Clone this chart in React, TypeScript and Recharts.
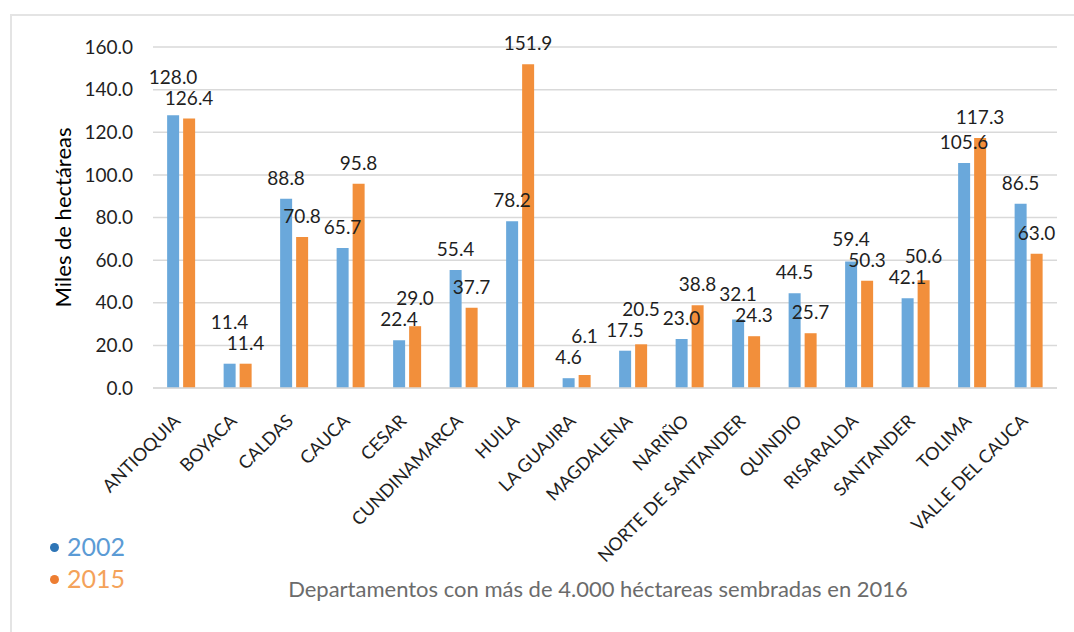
import { BarChart, Bar, XAxis, YAxis, CartesianGrid, LabelList } from 'recharts';

const departamentos = [
    'ANTIOQUIA', 'BOYACA', 'CALDAS', 'CAUCA', 'CESAR', 'CUNDINAMARCA', 'HUILA', 'LA GUAJIRA',
    'MAGDALENA', 'NARIÑO', 'NORTE DE SANTANDER', 'QUINDIO', 'RISARALDA', 'SANTANDER', 'TOLIMA', 'VALLE DEL CAUCA',
];
const valores2002 = [128.0, 11.4, 88.8, 65.7, 22.4, 55.4, 78.2, 4.6, 17.5, 23.0, 32.1, 44.5, 59.4, 42.1, 105.6, 86.5];
const valores2015 = [126.4, 11.4, 70.8, 95.8, 29.0, 37.7, 151.9, 6.1, 20.5, 38.8, 24.3, 25.7, 50.3, 50.6, 117.3, 63.0];
const yTicks = [0, 20, 40, 60, 80, 100, 120, 140, 160];

const FONT = 'Lato, "Open Sans", sans-serif';
const BLUE = '#6aa8db';
const ORANGE = '#f28f3b';
const TEXT = '#1f1f1f';

const data = departamentos.map((name, i) => ({
    name,
    y2002: valores2002[i],
    y2015: valores2015[i],
}));

// rotated category labels, Excel style
const DeptTick = ({ x, y, payload }: any) => (
    <text
        x={x - 10}
        y={y + 16}
        transform={`rotate(-45, ${x - 10}, ${y + 16})`}
        textAnchor="end"
        dominantBaseline="hanging"
        fontFamily={FONT}
        fontSize={18}
        fill={TEXT}
    >
        {payload.value}
    </text>
);

// value label; when both labels of a category would collide, lift the taller bar's one
const makeValueLabel = (isFirst: boolean) => (props: any) => {
    const { x, y, width, height, value, index } = props;
    const other = isFirst ? valores2015[index] : valores2002[index];
    const ppu = value ? height / value : 0;
    const otherTop = y - (other - value) * ppu;
    let bottom = y - 14;
    if (Math.abs(y - otherTop) < 21) {
        const higher = value > other || (value === other && isFirst);
        if (higher) bottom = Math.max(y, otherTop) - 14 - 21;
    }
    return (
        <text x={x + width / 2} y={bottom} textAnchor="middle" fontFamily={FONT} fontSize={19} fill={TEXT}>
            {Number(value).toFixed(1)}
        </text>
    );
};

const Dot = ({ color }: { color: string }) => (
    <span style={{ display: 'inline-block', width: 9, height: 9, borderRadius: '50%', background: color, marginRight: 8, verticalAlign: 'middle', position: 'relative', top: -2 }} />
);

export default function App() {
    return (
        <div style={{ position: 'absolute', left: 0, top: 0, width: 1074, height: 632, background: '#fff', fontFamily: FONT }}>
            {/* light frame of the original chart area */}
            <div style={{ position: 'absolute', left: 10, top: 14, right: 0, bottom: 0, borderTop: '2px solid #e4e4e4', borderLeft: '2px solid #e4e4e4' }} />
            <BarChart
                width={1074}
                height={632}
                data={data}
                margin={{ top: 47, right: 17, left: 53, bottom: 94 }}
                barCategoryGap="25%"
                barGap={4}
                style={{ position: 'absolute', left: 0, top: 0 }}
            >
                <CartesianGrid vertical={false} stroke="#d9d9d9" strokeWidth={1.5} />
                <XAxis
                    dataKey="name"
                    interval={0}
                    height={150}
                    tick={<DeptTick />}
                    tickLine={false}
                    axisLine={{ stroke: '#d9d9d9', strokeWidth: 1.5 }}
                />
                <YAxis
                    domain={[0, 160]}
                    ticks={yTicks}
                    width={100}
                    tickLine={false}
                    axisLine={false}
                    tickSize={10}
                    tickMargin={10}
                    tickFormatter={(v: number) => v.toFixed(1)}
                    tick={{ fontFamily: FONT, fontSize: 19, fill: TEXT }}
                    label={({ viewBox }: any) => {
                        const cy = viewBox.y + viewBox.height / 2;
                        return (
                            <text x={62} y={cy} transform={`rotate(-90, 62, ${cy})`} textAnchor="middle" dominantBaseline="central" fontFamily={FONT} fontSize={22} fill="#000">
                                Miles de hectáreas
                            </text>
                        );
                    }}
                />
                <Bar dataKey="y2002" fill={BLUE} isAnimationActive={false}>
                    <LabelList dataKey="y2002" content={makeValueLabel(true)} />
                </Bar>
                <Bar dataKey="y2015" fill={ORANGE} isAnimationActive={false}>
                    <LabelList dataKey="y2015" content={makeValueLabel(false)} />
                </Bar>
            </BarChart>
            <div style={{ position: 'absolute', left: 50, top: 530, fontSize: 25, lineHeight: '32px' }}>
                <div style={{ color: '#5b9bd5' }}><Dot color="#2e75b6" />2002</div>
                <div style={{ color: '#f4a25a' }}><Dot color="#ed7d31" />2015</div>
            </div>
            <div style={{ position: 'absolute', left: 0, width: 1196, top: 575, textAlign: 'center', fontSize: 22, color: '#6b6b6b' }}>
                Departamentos con más de 4.000 héctareas sembradas en 2016
            </div>
        </div>
    );
}
